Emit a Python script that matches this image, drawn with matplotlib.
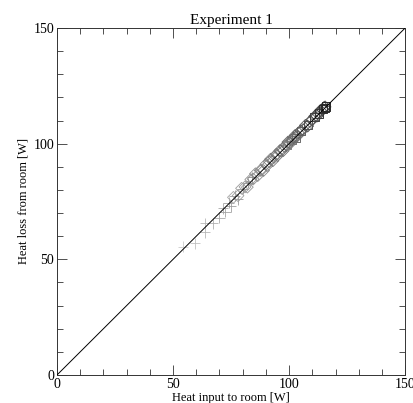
#!/usr/bin/env python3
"""
Experiment 1: heat input vs heat loss scatter with 1:1 line
"""
import numpy as np
import matplotlib
matplotlib.use('Agg')
import matplotlib.pyplot as plt
from matplotlib.ticker import MultipleLocator

# Data
cross_x = [54.3, 59.5, 63.8, 63.8, 67.0, 70.0, 71.5, 72.5, 74.0, 75.0, 76.5, 78.0, 80.0, 82.5, 84.0]
cross_y = [55.5, 57.0, 65.5, 61.6, 65.5, 68.0, 72.0, 70.5, 74.5, 73.0, 77.5, 76.0, 80.5, 83.0, 85.5]

diamond_x = [76.0, 78.0, 79.5, 81.0, 82.0, 83.5, 84.5, 85.5, 86.5, 87.5, 88.0, 89.0, 90.0, 90.5, 91.5,
             92.0, 93.0, 93.5, 94.5, 95.0, 96.0, 96.5, 97.5, 98.0, 99.0, 99.5, 100.5, 101.0, 102.0, 102.5,
             103.5, 104.0, 105.0, 106.0, 107.0, 108.0, 109.0, 110.0, 111.0, 112.0, 113.0, 113.5, 114.5,
             115.0, 115.5]
diamond_y = [76.8, 77.5, 80.7, 81.3, 81.2, 84.5, 84.7, 87.0, 86.2, 88.4, 88.5, 88.4, 91.1, 90.5, 92.2,
             93.3, 92.6, 94.1, 95.4, 94.8, 97.0, 96.8, 97.0, 98.8, 99.2, 100.7, 100.2, 101.6, 102.4, 103.5,
             103.3, 104.7, 105.5, 106.1, 107.9, 107.6, 109.6, 110.3, 111.8, 111.9, 113.5, 114.4, 114.7,
             115.6, 115.9]

square_x = [99.0, 101.0, 103.0, 105.0, 108.0, 111.0, 113.0, 114.5, 115.5, 116.0]
square_y = [99.5, 101.5, 102.5, 105.5, 108.0, 111.5, 113.0, 115.0, 115.5, 116.0]

x_ticks = [0, 50, 100, 150]
y_ticks = [0, 50, 100, 150]

plt.rcParams['font.family'] = ['Liberation Serif', 'DejaVu Serif']

fig = plt.figure(figsize=(4.13, 4.03), dpi=100)
ax = fig.add_axes([0.138, 0.0695, 0.843, 0.861])

# 1:1 reference line
ax.plot([0, 150], [0, 150], color='black', linewidth=0.7, zorder=3)

# grey level darkens with heat input
def greys(vals, lo, hi):
    v = np.asarray(vals, dtype=float)
    t = (v - v.min()) / max(v.max() - v.min(), 1e-9)
    return [str(hi - (hi - lo) * s) for s in t]

ax.scatter(cross_x, cross_y, marker='+', s=60, linewidths=0.6,
           c=greys(cross_x, 0.55, 0.8), zorder=2)
ax.scatter(diamond_x, diamond_y, marker='D', s=36, linewidths=0.6,
           facecolors='none', edgecolors=greys(diamond_x, 0.25, 0.65), zorder=2)
ax.scatter(square_x, square_y, marker='s', s=36, linewidths=0.7,
           facecolors='none', edgecolors=greys(square_x, 0.15, 0.5), zorder=2)

ax.set_xlim(0, 150)
ax.set_ylim(0, 150)
ax.set_xticks(x_ticks)
ax.set_yticks(y_ticks)
ax.xaxis.set_minor_locator(MultipleLocator(10))
ax.yaxis.set_minor_locator(MultipleLocator(10))
ax.tick_params(which='both', direction='in', top=True, right=True,
               labelsize=10, colors='#333333', labelcolor='black')
ax.tick_params(which='major', length=7, width=0.6, pad=2)
ax.tick_params(which='minor', length=4, width=0.6)
for sp in ax.spines.values():
    sp.set_linewidth(0.7)
    sp.set_color('#333333')

ax.set_title('Experiment 1', fontsize=11, pad=3)
ax.set_xlabel('Heat input to room [W]', fontsize=9, labelpad=1)
ax.set_ylabel('Heat loss from room [W]', fontsize=9, labelpad=3)

fig.savefig('out.png', dpi=100)
